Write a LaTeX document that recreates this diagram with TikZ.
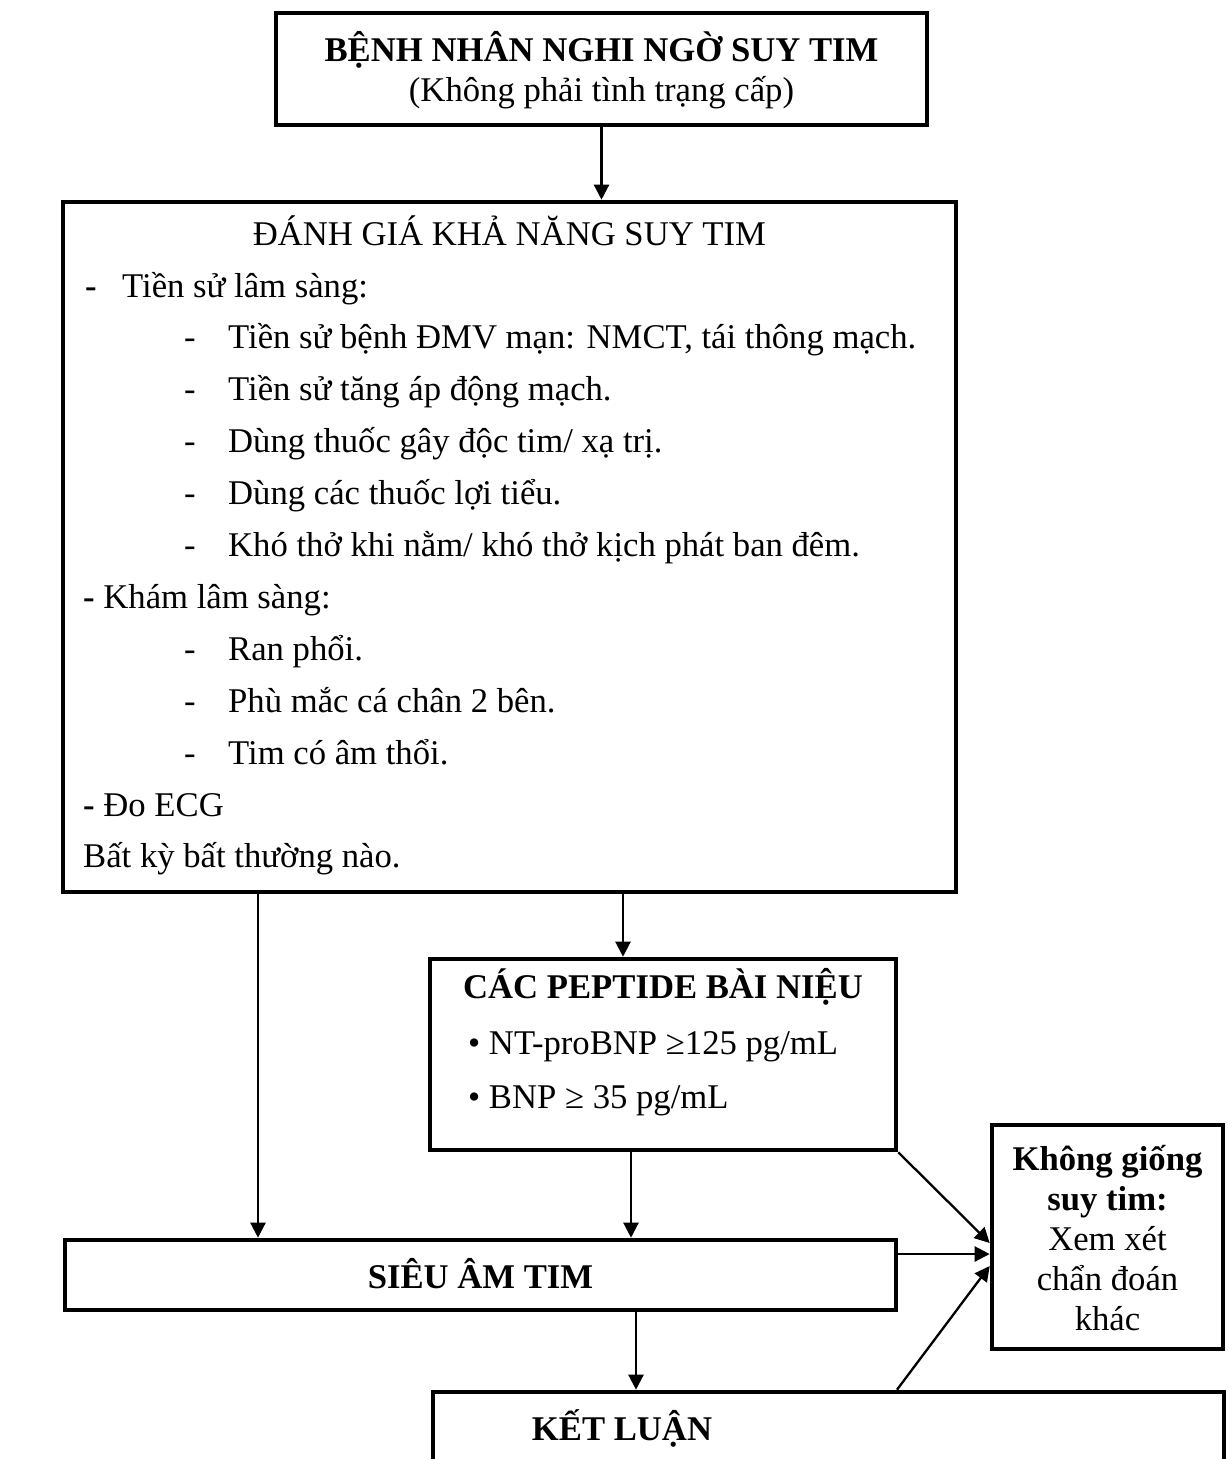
\documentclass[tikz,border=0pt]{standalone}
\usepackage{fontspec}
\setmainfont{Liberation Serif}
\usetikzlibrary{arrows.meta}
\begin{document}
\begin{tikzpicture}[x=1pt,y=-1pt,
  box/.style={draw, line width=4.6pt, inner sep=0pt},
  txt/.style={inner sep=0pt, font=\fontsize{34.67}{40}\selectfont},
  arr/.style={line width=2.3pt, -{Triangle[length=15pt,width=15pt]}}]
\useasboundingbox (0,0) rectangle (1227,1459);
\clip (0,0) rectangle (1227,1459);

% boxes
\node[box, minimum width=651pt, minimum height=112pt] (top)   at (601.5,69) {};
\node[box, minimum width=893pt, minimum height=690pt] (big)   at (509.5,547) {};
\node[box, minimum width=466pt, minimum height=191pt] (pep)   at (663,1054.5) {};
\node[box, minimum width=831pt, minimum height=70pt]  (sieu)  at (480.5,1275) {};
\node[box, minimum width=231pt, minimum height=224pt] (right) at (1107.5,1237) {};
\node[box, minimum width=791pt, minimum height=148pt] (ket)   at (828.5,1466) {};

% top box text
\node[txt, anchor=base] (t1) at (601.5,61) {\bfseries BỆNH NHÂN NGHI NGỜ SUY TIM};
\node[txt, anchor=base] (t2) at (601.5,101) {(Không phải tình trạng cấp)};

% assessment box text
\node[txt, anchor=base] (bt) at (509.5,245) {ĐÁNH GIÁ KHẢ NĂNG SUY TIM};
\node[txt, anchor=base west] (d0) at (85,297) {\bfseries -};
\node[txt, anchor=base west] (l0) at (122,297) {Tiền sử lâm sàng:};
\node[txt, anchor=base west] (d1) at (184,348.9) {-};
\node[txt, anchor=base west] (l1) at (228,348.9) {Tiền sử bệnh ĐMV mạn: NMCT, tái thông mạch.};
\node[txt, anchor=base west] (d2) at (184,400.8) {-};
\node[txt, anchor=base west] (l2) at (228,400.8) {Tiền sử tăng áp động mạch.};
\node[txt, anchor=base west] (d3) at (184,452.7) {-};
\node[txt, anchor=base west] (l3) at (228,452.7) {Dùng thuốc gây độc tim/ xạ trị.};
\node[txt, anchor=base west] (d4) at (184,504.6) {-};
\node[txt, anchor=base west] (l4) at (228,504.6) {Dùng các thuốc lợi tiểu.};
\node[txt, anchor=base west] (d5) at (184,556.5) {-};
\node[txt, anchor=base west] (l5) at (228,556.5) {Khó thở khi nằm/ khó thở kịch phát ban đêm.};
\node[txt, anchor=base west] (l6) at (83,608.4) {\textbf{-} Khám lâm sàng:};
\node[txt, anchor=base west] (d7) at (184,660.3) {-};
\node[txt, anchor=base west] (l7) at (228,660.3) {Ran phổi.};
\node[txt, anchor=base west] (d8) at (184,712.2) {-};
\node[txt, anchor=base west] (l8) at (228,712.2) {Phù mắc cá chân 2 bên.};
\node[txt, anchor=base west] (d9) at (184,764.1) {-};
\node[txt, anchor=base west] (l9) at (228,764.1) {Tim có âm thổi.};
\node[txt, anchor=base west] (l10) at (83,816) {\textbf{-} Đo ECG};
\node[txt, anchor=base west] (l11) at (83,867.9) {Bất kỳ bất thường nào.};

% peptide box text
\node[txt, anchor=base] (pt) at (663,998) {\bfseries CÁC PEPTIDE BÀI NIỆU};
\node[txt, anchor=base west] (p1) at (468,1054) {• NT-proBNP ≥125 pg/mL};
\node[txt, anchor=base west] (p2) at (468,1108) {• BNP ≥ 35 pg/mL};

% echo, alternative and conclusion text
\node[txt, anchor=base] (st) at (480.5,1288) {\bfseries SIÊU ÂM TIM};
\node[txt, anchor=base] (r1t) at (1107.5,1170) {\bfseries Không giống};
\node[txt, anchor=base] (r2t) at (1107.5,1210) {\bfseries suy tim:};
\node[txt, anchor=base] (r3t) at (1107.5,1250) {Xem xét};
\node[txt, anchor=base] (r4t) at (1107.5,1290) {chẩn đoán};
\node[txt, anchor=base] (r5t) at (1107.5,1330) {khác};
\node[txt, anchor=base] (kt) at (622,1440) {\bfseries KẾT LUẬN};

% helper positions for the connectors
\coordinate (xl)  at (258,0);
\coordinate (xm1) at (623,0);
\coordinate (xm2) at (631,0);
\coordinate (xm3) at (636,0);
\coordinate (xk)  at (897,0);
\coordinate (y1)  at (0,1243);
\coordinate (y2)  at (0,1254);
\coordinate (y3)  at (0,1266);

% connectors
\draw[arr] (top.south) -- (top.south |- big.north);
\draw[arr] (big.south -| xl) -- (sieu.north -| xl);
\draw[arr] (big.south -| xm1) -- (pep.north -| xm1);
\draw[arr] (pep.south -| xm2) -- (sieu.north -| xm2);
\draw[arr] (sieu.south -| xm3) -- (ket.north -| xm3);
\draw[arr] (pep.south east) -- (right.west |- y1);
\draw[arr] (sieu.east |- y2) -- (right.west |- y2);
\draw[arr] (ket.north -| xk) -- (right.west |- y3);
\end{tikzpicture}
\end{document}
